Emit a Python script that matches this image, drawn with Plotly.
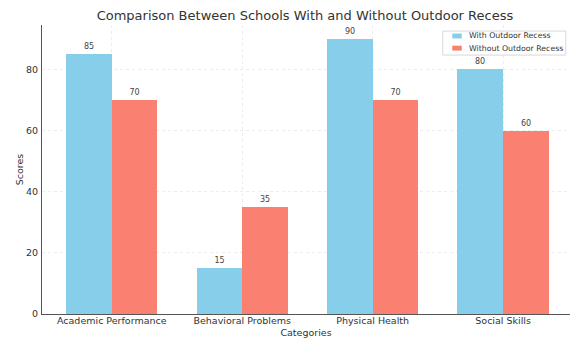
import plotly.graph_objects as go

categories = ["Academic Performance", "Behavioral Problems", "Physical Health", "Social Skills"]
series_names = ["With Outdoor Recess", "Without Outdoor Recess"]
with_recess = [85, 15, 90, 80]
without_recess = [70, 35, 70, 60]
y_ticks = [0, 20, 40, 60, 80]

colors = ["#87CEEB", "#FA8072"]
bar_w = 0.35
xs = list(range(len(categories)))
font = "DejaVu Sans, sans-serif"

fig = go.Figure()
for name, vals, color, shift in zip(series_names, [with_recess, without_recess],
                                    colors, [-bar_w / 2, bar_w / 2]):
    fig.add_trace(go.Bar(
        x=[x + shift for x in xs], y=vals, width=bar_w, name=name,
        marker=dict(color=color, line=dict(width=0)),
        text=[str(v) for v in vals], textposition="outside",
        textfont=dict(size=8, color="#444"), cliponaxis=False,
        showlegend=False,
    ))

# compact legend box in the upper-right corner of the plot area
shapes = [dict(type="rect", xref="paper", yref="paper",
               x0=0.759, x1=0.992, y0=0.896, y1=0.979,
               fillcolor="rgba(255,255,255,0.8)", line=dict(color="#d8d8d8", width=1))]
annotations = []
for i, (name, color) in enumerate(zip(series_names, colors)):
    yc = 0.962 - i * 0.042
    shapes.append(dict(type="rect", xref="paper", yref="paper",
                       x0=0.777, x1=0.795, y0=yc - 0.0085, y1=yc + 0.0085,
                       fillcolor=color, line=dict(width=0)))
    annotations.append(dict(xref="paper", yref="paper", x=0.805, y=yc,
                            xanchor="left", yanchor="middle", showarrow=False,
                            text=name, font=dict(size=7.8, color="#333")))

fig.update_layout(
    width=570, height=339,
    margin=dict(l=42, r=0, t=25, b=25),
    paper_bgcolor="white", plot_bgcolor="white",
    font=dict(family=font, color="#333", size=9),
    title=dict(text="Comparison Between Schools With and Without Outdoor Recess",
               x=0.535, xanchor="center", y=0.955, yanchor="middle",
               font=dict(size=13, color="#333")),
    barmode="overlay",
    bargap=0,
    showlegend=False,
    shapes=shapes,
    annotations=annotations,
    xaxis=dict(range=[-0.535, 3.513], tickvals=xs, ticktext=categories,
               showgrid=True, gridcolor="#ececec", griddash="dot", gridwidth=1,
               showline=True, linecolor="#555", linewidth=1.2,
               ticks="", ticklabelstandoff=-3,
               tickfont=dict(size=9.5, color="#333"),
               title=dict(text="Categories", font=dict(size=9.5, color="#333"), standoff=4),
               zeroline=False),
    yaxis=dict(range=[0, 94.5], tickvals=y_ticks,
               showgrid=True, gridcolor="#ececec", griddash="dot", gridwidth=1,
               showline=True, linecolor="#555", linewidth=1.2,
               ticks="", ticklabelstandoff=1,
               tickfont=dict(size=9.5, color="#333"),
               title=dict(text="Scores", font=dict(size=9.5, color="#333"), standoff=0),
               zeroline=False),
)

fig.write_html("out.html")
